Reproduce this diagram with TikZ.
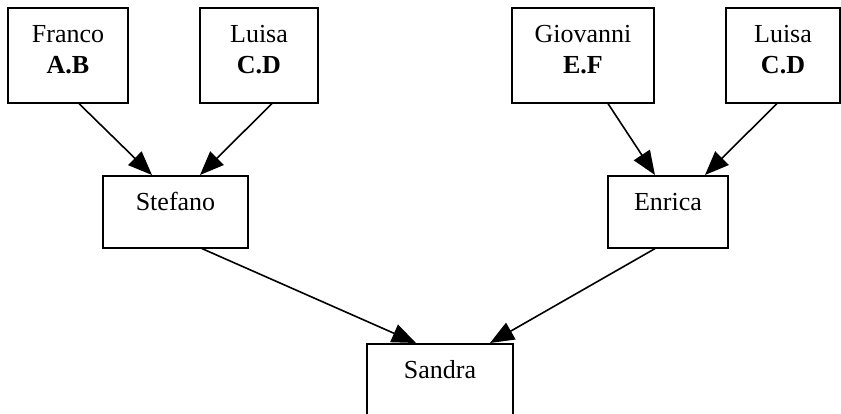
\documentclass[tikz,border=0pt]{standalone}
\usepackage{fontspec}
\setmainfont{Liberation Serif}
\usetikzlibrary{arrows.meta}
\tikzset{
	box/.style={draw, line width=1.6pt, anchor=north, align=center, inner sep=0pt, font=\fontsize{26}{31}\selectfont},
	grand/.style={box, minimum height=95pt, text depth=11pt},
	person/.style={box, minimum height=72pt, text height=19pt, text depth=21pt},
	link/.style={line width=1.6pt, -{Triangle[length=24pt,width=19pt]}}
}
\begin{document}
\begin{tikzpicture}[x=1pt,y=-1pt]
		\useasboundingbox (0,0) rectangle (841,414);
		
		% Grandparents
		\node[grand, minimum width=120pt] (franco) at (68,7) {Franco\\\textbf{A.B}};
		\node[grand, minimum width=118pt] (luisaA) at (259,7) {Luisa\\\textbf{C.D}};
		\node[grand, minimum width=142pt] (giovanni) at (583,7) {Giovanni\\\textbf{E.F}};
		\node[grand, minimum width=114pt] (luisaB) at (783,7) {Luisa\\\textbf{C.D}};
		
		% Parents
		\node[person, minimum width=145pt] (stefano) at (175.5,175) {Stefano};
		\node[person, minimum width=120pt] (enrica) at (668,175) {Enrica};
		
		% Child
		\node[person, minimum width=146pt] (sandra) at (440,343) {Sandra};
		
		% Links to Stefano
		\draw[link] ([xshift=11pt]franco.south) -- ([xshift=-23.5pt]stefano.north);
		\draw[link] ([xshift=13pt]luisaA.south) -- ([xshift=24.5pt]stefano.north);
		
		% Links to Enrica
		\draw[link] ([xshift=25pt]giovanni.south) -- ([xshift=-13pt]enrica.north);
		\draw[link] ([xshift=-6pt]luisaB.south) -- ([xshift=37pt]enrica.north);
		
		% Links to Sandra
		\draw[link] ([xshift=26.5pt]stefano.south) -- ([xshift=-24pt]sandra.north);
		\draw[link] ([xshift=-13pt]enrica.south) -- ([xshift=50pt]sandra.north);
\end{tikzpicture}
\end{document}
